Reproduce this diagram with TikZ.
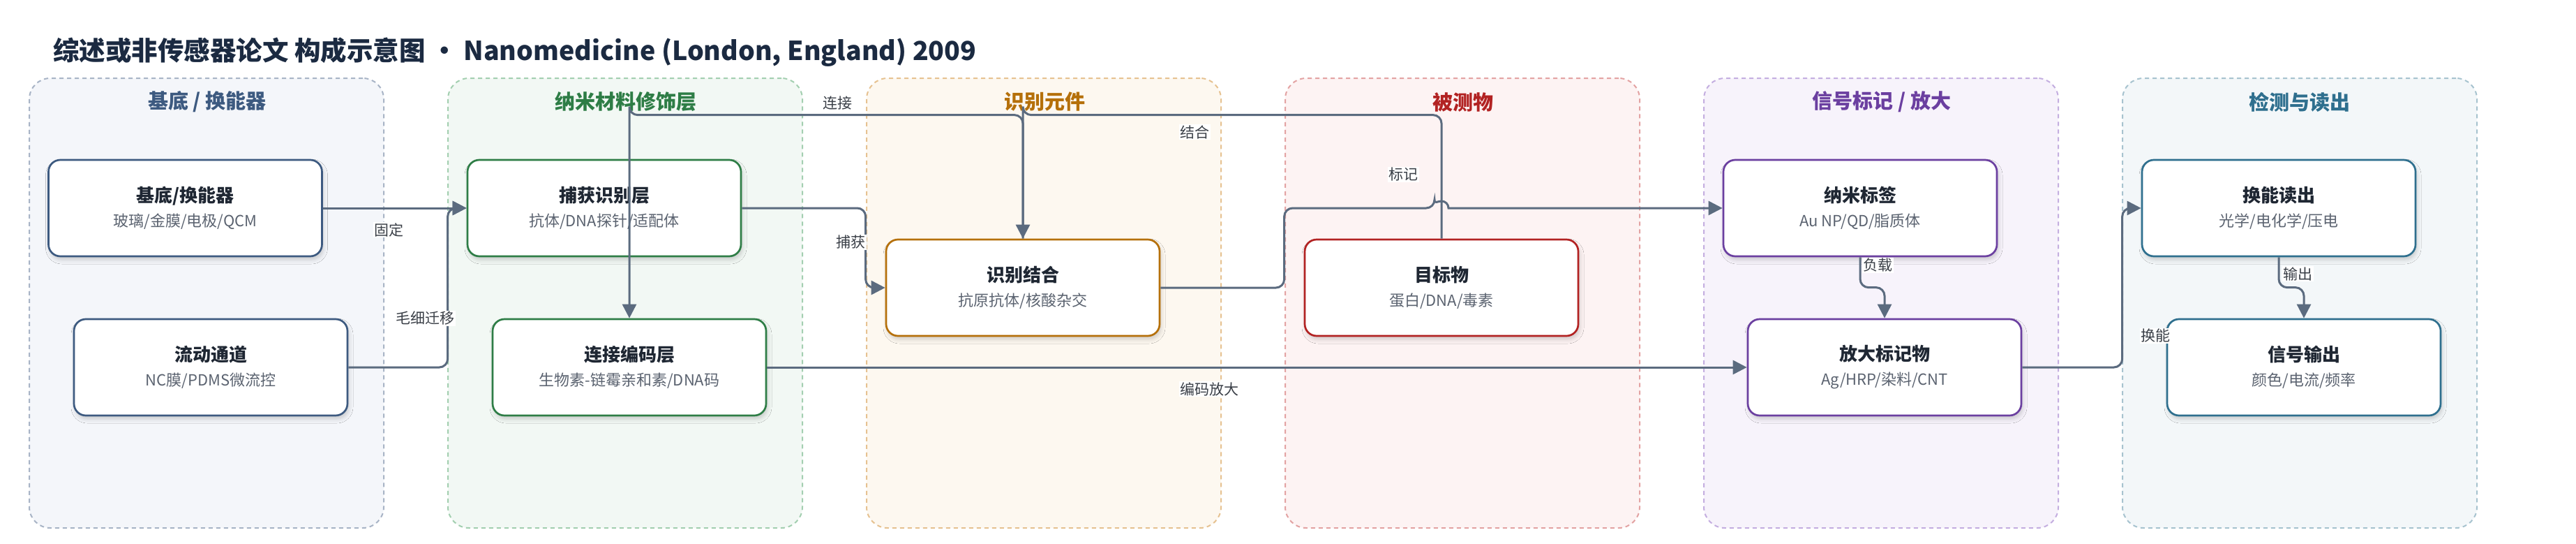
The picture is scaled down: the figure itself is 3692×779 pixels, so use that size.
\documentclass[tikz,border=0pt]{standalone}
\usepackage{fontspec}
\setmainfont{Noto Sans CJK SC}
\usetikzlibrary{arrows.meta,calc,shadows.blur}
\definecolor{edgec}{HTML}{5B6B7F}
\definecolor{ttlc}{HTML}{1B2A41}
\definecolor{ntc}{HTML}{1F2733}
\definecolor{nsc}{HTML}{5B6370}
\definecolor{elc}{HTML}{3A3F47}
\definecolor{gaf}{HTML}{F4F6FA}\definecolor{gab}{HTML}{A8B4C6}\definecolor{gat}{HTML}{3D5A80}
\definecolor{gbf}{HTML}{F2F8F4}\definecolor{gbb}{HTML}{A3CFB0}\definecolor{gbt}{HTML}{2E7D46}
\definecolor{gcf}{HTML}{FDF8F0}\definecolor{gcb}{HTML}{E6C291}\definecolor{gct}{HTML}{B5700A}
\definecolor{gdf}{HTML}{FDF3F3}\definecolor{gdb}{HTML}{E3A3A3}\definecolor{gdt}{HTML}{B22222}
\definecolor{gef}{HTML}{F7F3FB}\definecolor{geb}{HTML}{C4AEE0}\definecolor{get}{HTML}{6B3FA0}
\definecolor{gff}{HTML}{F3F7F9}\definecolor{gfb}{HTML}{A7C3CF}\definecolor{gft}{HTML}{2E6F8E}
\newcommand{\nodetxt}[2]{{\fontsize{26}{35}\selectfont\bfseries\color{ntc}#1}\\{\fontsize{22}{35}\selectfont\color{nsc}#2}}
\begin{document}
\begin{tikzpicture}[x=1pt,y=-1pt,
  grp/.style={draw, line width=2pt, dash pattern=on 6pt off 5pt, rounded corners=30pt, minimum width=508pt, minimum height=644pt, inner sep=0pt},
  gtitle/.style={font=\fontsize{29}{34}\selectfont\bfseries, inner sep=0pt},
  box/.style={draw, line width=2.7pt, rounded corners=17pt, fill=white, minimum width=392pt, minimum height=138pt, inner sep=0pt, align=center, font=\fontsize{22}{35}\selectfont,
    blur shadow={shadow xshift=2pt, shadow yshift=-5pt, shadow blur steps=6, shadow opacity=18, shadow blur radius=6pt}},
  edge/.style={draw=edgec, line width=3pt, rounded corners=12pt, -{Triangle[length=20pt,width=20pt]}},
  elab/.style={fill=white, inner sep=1.5pt, text=elc, font=\fontsize{21}{24}\selectfont},
]
\useasboundingbox (0,0) rectangle (3692,779);
\fill[white] (0,0) rectangle (3692,779);

\node[anchor=west, inner sep=0pt, text=ttlc, font=\fontsize{37.5}{44}\selectfont\bfseries] (title) at (76,75) {综述或非传感器论文 构成示意图 · Nanomedicine (London, England) 2009};

% groups
\node[grp, draw=gab, fill=gaf] (g1) at (296,434) {};
\node[grp, draw=gbb, fill=gbf] (g2) at (896,434) {};
\node[grp, draw=gcb, fill=gcf] (g3) at (1496,434) {};
\node[grp, draw=gdb, fill=gdf] (g4) at (2096,434) {};
\node[grp, draw=geb, fill=gef] (g5) at (2696,434) {};
\node[grp, draw=gfb, fill=gff] (g6) at (3296,434) {};

\node[gtitle, text=gat] (t1) at (297,146) {基底 / 换能器};
\node[gtitle, text=gbt] (t2) at (897,146) {纳米材料修饰层};
\node[gtitle, text=gct] (t3) at (1497,146) {识别元件};
\node[gtitle, text=gdt] (t4) at (2097,146) {被测物};
\node[gtitle, text=get] (t5) at (2697,146) {信号标记 / 放大};
\node[gtitle, text=gft] (t6) at (3296,146) {检测与读出};

% nodes
\node[box, draw=gat] (n1) at (265.5,298) {\nodetxt{基底/换能器}{玻璃/金膜/电极/QCM}};
\node[box, draw=gat] (n2) at (302,526) {\nodetxt{流动通道}{NC膜/PDMS微流控}};
\node[box, draw=gbt] (n3) at (866,298) {\nodetxt{捕获识别层}{抗体/DNA探针/适配体}};
\node[box, draw=gbt] (n4) at (902,526) {\nodetxt{连接编码层}{生物素-链霉亲和素/DNA码}};
\node[box, draw=gct] (n5) at (1466,412) {\nodetxt{识别结合}{抗原抗体/核酸杂交}};
\node[box, draw=gdt] (n6) at (2066,412) {\nodetxt{目标物}{蛋白/DNA/毒素}};
\node[box, draw=get] (n7) at (2666,298) {\nodetxt{纳米标签}{Au NP/QD/脂质体}};
\node[box, draw=get] (n8) at (2701,526) {\nodetxt{放大标记物}{Ag/HRP/染料/CNT}};
\node[box, draw=gft] (n9) at (3266,298) {\nodetxt{换能读出}{光学/电化学/压电}};
\node[box, draw=gft] (n10) at (3302,526) {\nodetxt{信号输出}{颜色/电流/频率}};

% edges
\draw[edge] (n1.east) -- (n3.west);
\draw[edge] (n2.east) -| ($(n3.west)+(-27,0)$) -- (n3.west);
\draw[edge] (n3.east) -| ($(n5.west)+(-28,0)$) -- (n5.west);
\draw[edge] (n6.north) |- ($(n5.north)+(0,-177)$) -| (n5.north);
\draw[edge] (n5.north) |- ($(n4.north)+(0,-291)$) -| (n4.north);
\draw[edge] (n5.east) -| ($(n7.west)+(-628,0)$) -- ($(n6.north |- n7.west)+(-10,0)$) [sharp corners] arc[start angle=180, end angle=360, radius=10] -- (n7.west);
\draw[edge] (n4.east) -- (n8.west);
\draw[edge] (n7.south) |- ($(n8.north)+(0,-44)$) -- (n8.north);
\draw[edge] (n8.east) -| ($(n9.west)+(-27,0)$) -- (n9.west);
\draw[edge] (n9.south) |- ($(n10.north)+(0,-44)$) -- (n10.north);

% edge labels
\node[elab] (l1) at (557,329) {固定};
\node[elab] (l2) at (609,456) {毛细迁移};
\node[elab] (l3) at (1219,347) {捕获};
\node[elab] (l4) at (1200,148) {连接};
\node[elab] (l5) at (1712,189) {结合};
\node[elab] (l6) at (2011,250) {标记};
\node[elab] (l7) at (1733,557) {编码放大};
\node[elab] (l8) at (2691,380) {负载};
\node[elab] (l9) at (3089,481) {换能};
\node[elab] (l10) at (3293,392) {输出};
\end{tikzpicture}
\end{document}
